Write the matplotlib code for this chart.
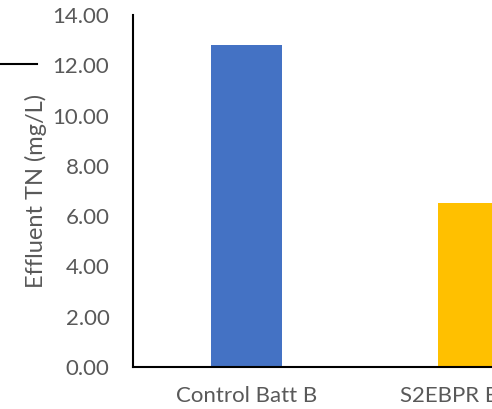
import matplotlib
matplotlib.use("Agg")
import matplotlib.pyplot as plt
from matplotlib.lines import Line2D

categories = ["Control Batt B", "S2EBPR Batt B"]
effluent_tn = [12.81, 6.52]
bar_colors = ["#4472C4", "#FFC000"]
y_ticks = [0, 2, 4, 6, 8, 10, 12, 14]

W, H = 492, 409
fig = plt.figure(figsize=(W / 100, H / 100), dpi=100)
plt.rcParams["font.family"] = ["Lato", "DejaVu Sans"]

left, bottom, top = 133, 367, 15
unit = 227  # pixels per category
ax = fig.add_axes([left / W, (H - bottom) / H, 2 * unit / W, (bottom - top) / H])

x = list(range(len(categories)))
ax.bar(x, effluent_tn, width=0.317, color=bar_colors, zorder=2)
ax.set_xlim(-0.5, 1.5)
ax.set_ylim(0, 14)
ax.set_yticks(y_ticks)
ax.set_yticklabels([f"{v:.2f}" for v in y_ticks])
ax.set_xticks(x)
ax.set_xticklabels(categories)
ax.tick_params(axis="both", length=0, labelsize=16, colors="#595959")
ax.tick_params(axis="y", pad=17)
ax.tick_params(axis="x", pad=14)
ax.set_ylabel("Effluent TN (mg/L)", fontsize=17, color="#595959", labelpad=4)

for side in ("top", "right"):
    ax.spines[side].set_visible(False)
for side in ("left", "bottom"):
    ax.spines[side].set_color("black")
    ax.spines[side].set_linewidth(1.5)

fig.add_artist(Line2D([0, 37 / W], [(H - 64) / H] * 2, color="black", lw=1.5))

fig.savefig("out.png", dpi=100)
